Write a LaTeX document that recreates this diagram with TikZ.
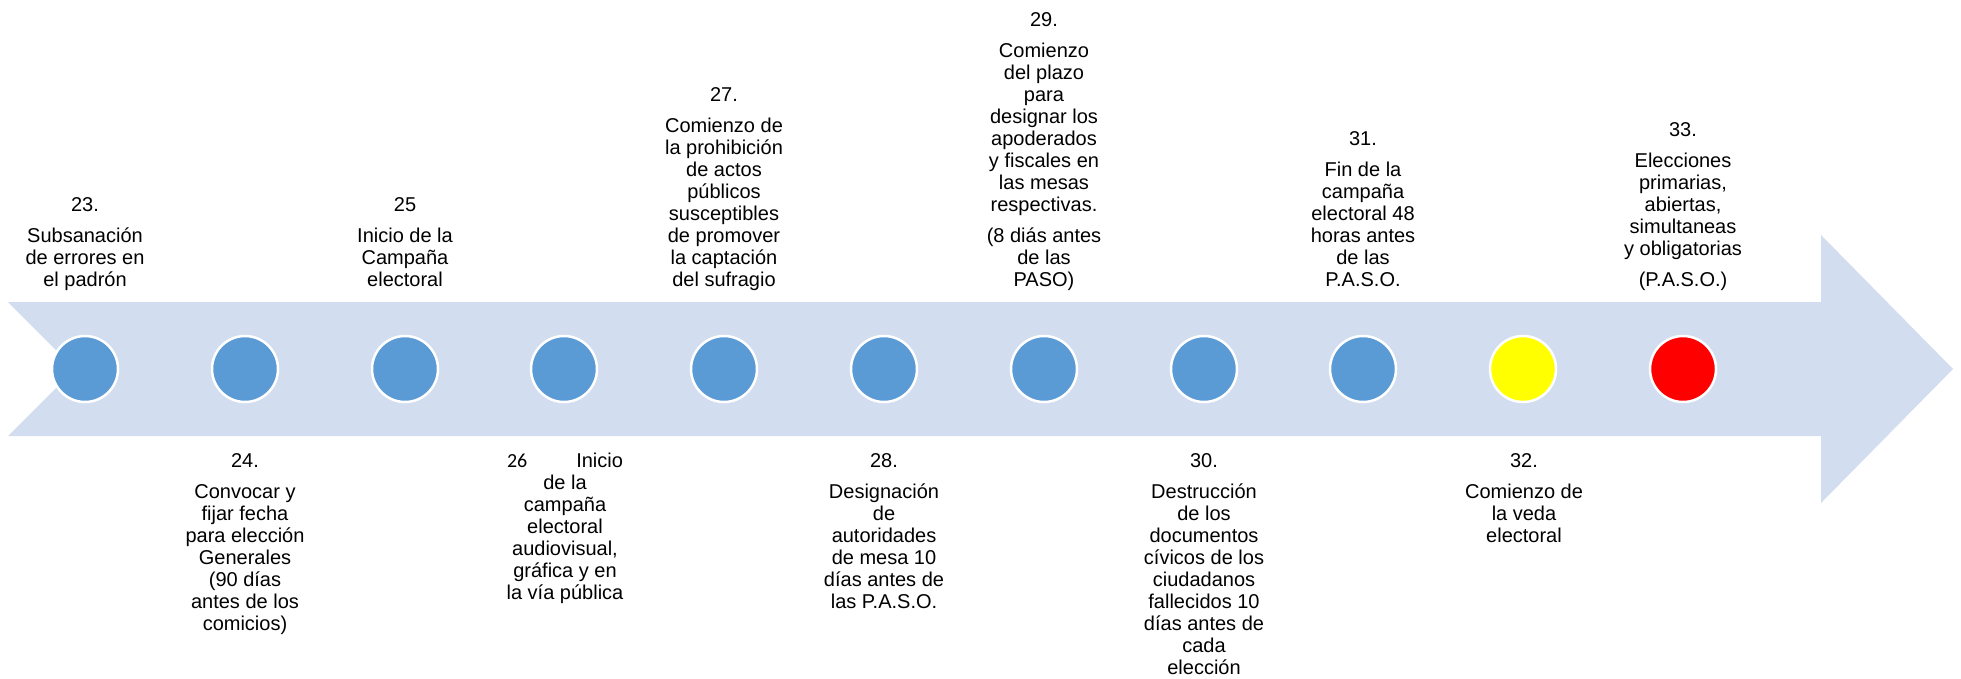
\documentclass[tikz,border=0pt]{standalone}
\usepackage{fontspec}
\setmainfont{Liberation Sans}
\newfontfamily\carlito{Carlito}
\definecolor{bandcol}{HTML}{D2DDEF}
\definecolor{dotblue}{HTML}{5B9BD5}
\definecolor{dotyellow}{HTML}{FFFF00}
\definecolor{dotred}{HTML}{FF0000}
\newcommand\lblstrut{\rule{0pt}{16pt}}
\newcommand\lblfont{\fontsize{20}{22}\selectfont}
\begin{document}
\lineskiplimit=-20pt
\begin{tikzpicture}[x=1pt,y=-1pt,
  dot/.style={circle,minimum size=66pt,inner sep=0pt,draw=white,line width=2.5pt},
  lbl/.style={anchor=north,inner sep=0pt,align=center,font=\lblfont}]
\useasboundingbox (0,0) rectangle (1961,678);
% timeline arrow
\fill[bandcol] (8,302) -- (1821,302) -- (1821,235) -- (1953,369) -- (1821,503)
  -- (1821,436) -- (8,436) -- (75,369) -- cycle;
% milestones
\node[dot,fill=dotblue] (c23) at (85,369) {};
\node[dot,fill=dotblue] (c24) at (245,369) {};
\node[dot,fill=dotblue] (c25) at (405,369) {};
\node[dot,fill=dotblue] (c26) at (564,369) {};
\node[dot,fill=dotblue] (c27) at (724,369) {};
\node[dot,fill=dotblue] (c28) at (884,369) {};
\node[dot,fill=dotblue] (c29) at (1044,369) {};
\node[dot,fill=dotblue] (c30) at (1204,369) {};
\node[dot,fill=dotblue] (c31) at (1363,369) {};
\node[dot,fill=dotyellow] (c32) at (1523,369) {};
\node[dot,fill=dotred] (c33) at (1683,369) {};
% labels above
\node[lbl] (l23) at (85,195) {\lblstrut 23.\\[9pt]Subsanación\\de errores en\\el padrón};
\node[lbl] (l25) at (405,195) {\lblstrut 25\\[9pt]Inicio de la\\Campaña\\electoral};
\node[lbl] (l27) at (724,85) {\lblstrut 27.\\[9pt]Comienzo de\\la prohibición\\de actos\\públicos\\susceptibles\\de promover\\la captación\\del sufragio};
\node[lbl] (l29) at (1044,10) {\lblstrut 29.\\[9pt]Comienzo\\del plazo\\para\\designar los\\apoderados\\y fiscales en\\las mesas\\respectivas.\\[9pt](8 diás antes\\de las\\PASO)};
\node[lbl] (l31) at (1363,129) {\lblstrut 31.\\[9pt]Fin de la\\campaña\\electoral 48\\horas antes\\de las\\P.A.S.O.};
\node[lbl] (l33) at (1683,120) {\lblstrut 33.\\[9pt]Elecciones\\primarias,\\abiertas,\\simultaneas\\y obligatorias\\[9pt](P.A.S.O.)};
% labels below
\node[lbl] (l24) at (245,451) {\lblstrut 24.\\[9pt]Convocar y\\fijar fecha\\para elección\\Generales\\(90 días\\antes de los\\comicios)};
\node[lbl] (l26) at (565,451) {\lblstrut{\carlito 26}\hspace{49pt}Inicio\\de la\\campaña\\electoral\\audiovisual,\\gráfica y en\\la vía pública};
\node[lbl] (l28) at (884,451) {\lblstrut 28.\\[9pt]Designación\\de\\autoridades\\de mesa 10\\días antes de\\las P.A.S.O.};
\node[lbl] (l30) at (1204,451) {\lblstrut 30.\\[9pt]Destrucción\\de los\\documentos\\cívicos de los\\ciudadanos\\fallecidos 10\\días antes de\\cada\\elección};
\node[lbl] (l32) at (1524,451) {\lblstrut 32.\\[9pt]Comienzo de\\la veda\\electoral};
\end{tikzpicture}
\end{document}
